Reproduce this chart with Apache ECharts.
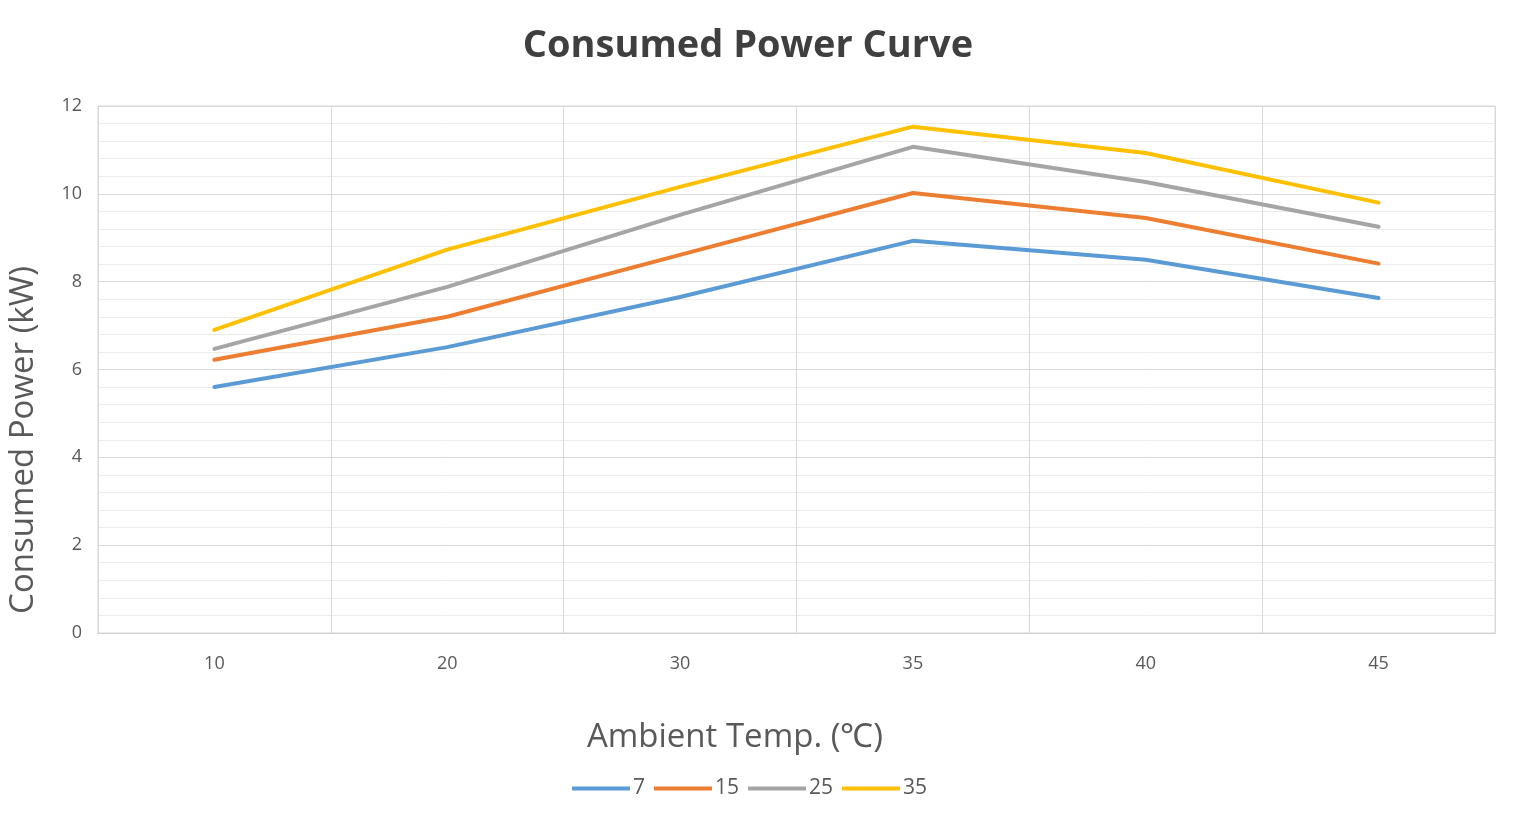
<!DOCTYPE html>
<html>
<head>
<meta charset="utf-8">
<style>
html,body{margin:0;padding:0;background:#fff;}
#chart{width:1520px;height:832px;}
</style>
<script src="https://cdn.jsdelivr.net/npm/echarts@6/dist/echarts.min.js"></script>
</head>
<body>
<div id="chart"></div>
<script>
var categories = ['10', '20', '30', '35', '40', '45'];
var seriesNames = ['7', '15', '25', '35'];
var s7  = [5.6, 6.51, 7.65, 8.93, 8.5, 7.63];
var s15 = [6.22, 7.2, 8.61, 10.02, 9.45, 8.41];
var s25 = [6.47, 7.88, 9.52, 11.07, 10.27, 9.25];
var s35 = [6.9, 8.73, 10.16, 11.53, 10.93, 9.8];
var colors = ['#5b9bd5', '#ed7d31', '#a5a5a5', '#ffc000'];

var chart = echarts.init(document.getElementById('chart'));
var data = [s7, s15, s25, s35];
chart.setOption({
  animation: false,
  backgroundColor: '#ffffff',
  graphic: [
    {type: 'text', x: 748, y: 46,
     style: {text: 'Consumed Power Curve', font: 'bold 38px "Open Sans"', fill: '#3f3f3f', align: 'center', verticalAlign: 'middle'}},
    {type: 'text', x: 24, y: 440, rotation: Math.PI / 2,
     style: {text: 'Consumed Power (kW)', font: '33px "Open Sans"', fill: '#595959', align: 'center', verticalAlign: 'middle'}},
    {type: 'text', x: 735, y: 738,
     style: {text: 'Ambient Temp. (\u2103)', font: '33px "Open Sans"', fill: '#595959', align: 'center', verticalAlign: 'middle'}}
  ],
  legend: {
    bottom: 28,
    left: 567,
    itemWidth: 58,
    itemHeight: 4,
    itemGap: 9,
    icon: 'rect',
    textStyle: {fontFamily: 'Open Sans', fontSize: 21, color: '#595959', padding: [0, 0, 0, -2]},
    data: seriesNames
  },
  grid: {left: 98, right: 25, top: 106, bottom: 199, show: true, borderColor: '#d9d9d9', borderWidth: 1},
  xAxis: {
    type: 'category',
    data: categories,
    boundaryGap: true,
    axisLine: {lineStyle: {color: '#d0d0d0', width: 1}},
    axisTick: {show: false},
    axisLabel: {fontFamily: 'Open Sans', fontSize: 18, color: '#595959', margin: 22},
    splitLine: {show: true, lineStyle: {color: '#d9d9d9', width: 1}}
  },
  yAxis: {
    type: 'value',
    min: 0, max: 12, interval: 2,
    axisLine: {show: false},
    axisTick: {show: false},
    axisLabel: {fontFamily: 'Open Sans', fontSize: 18, color: '#595959', margin: 16},
    splitLine: {show: true, lineStyle: {color: '#d9d9d9', width: 1}},
    minorTick: {show: false, splitNumber: 5},
    minorSplitLine: {show: true, lineStyle: {color: '#ececec', width: 1}}
  },
  series: seriesNames.map(function (n, i) {
    return {
      name: n, type: 'line', data: data[i],
      symbol: 'none', smooth: false,
      lineStyle: {width: 4, color: colors[i], cap: 'round', join: 'round'},
      itemStyle: {color: colors[i]}
    };
  })
});
</script>
</body>
</html>
